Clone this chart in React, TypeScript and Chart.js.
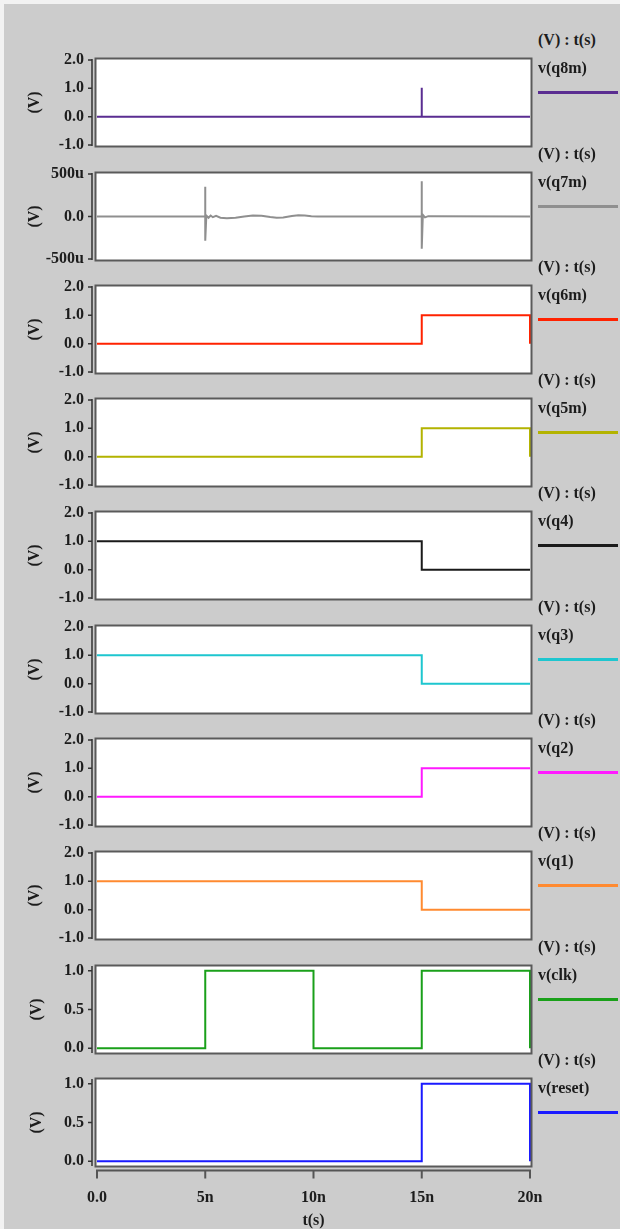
import React, { useEffect, useRef } from "react";
import { Chart, registerables } from "chart.js";

Chart.register(...registerables);

// ---------- data ----------
const timeTicks = [0, 5, 10, 15, 20]; // ns
const timeTickLabels = ["0.0", "5n", "10n", "15n", "20n"];

const stdTicks = [-1, 0, 1, 2];
const microTicks = [-500, 0, 500];
const unitTicks = [0, 0.5, 1];

const q8mTime = [0, 15, 15, 15, 20];
const q8mVolt = [0, 0, 1.02, 0, 0];

const q7mTime = [
  0, 5, 5, 5, 5.05, 5.15, 5.25, 5.35, 5.5, 5.7, 6.0, 6.4, 6.8, 7.2, 7.6, 8.0, 8.3, 8.6, 9.0,
  9.3, 9.6, 9.9, 10.2, 15, 15, 15, 15.05, 15.15, 15.3, 20,
];
const q7mMicroVolt = [
  0, 0, 350, -285, 10, -15, 12, -8, 8, -14, -20, -15, 0, 12, 10, -6, -16, -12, 6,
  16, 12, 4, 0, 0, 415, -380, 20, -10, 4, 0,
];

const q6mTime = [0, 15, 15, 20, 20];
const q6mVolt = [0, 0, 1, 1, 0];
const q5mTime = [0, 15, 15, 20, 20];
const q5mVolt = [0, 0, 1, 1, 0];
const q4Time = [0, 15, 15, 20];
const q4Volt = [1, 1, 0, 0];
const q3Time = [0, 15, 15, 20];
const q3Volt = [1, 1, 0, 0];
const q2Time = [0, 15, 15, 20];
const q2Volt = [0, 0, 1, 1];
const q1Time = [0, 15, 15, 20];
const q1Volt = [1, 1, 0, 0];
const clkTime = [0, 5, 5, 10, 10, 15, 15, 20, 20];
const clkVolt = [0, 0, 1, 1, 0, 0, 1, 1, 0];
const resetTime = [0, 15, 15, 20, 20];
const resetVolt = [0, 0, 1, 1, 0];

// ---------- layout / style ----------
const FONT_FAMILY = '"Liberation Serif", "Times New Roman", serif';
const TEXT_COLOR = "#1c1c1c";
const PLOT_LEFT = 97;
const PLOT_RIGHT = 530;
const PLOT_H = 85;
const PAD = 10;
const CANVAS_W = 560;
const PAGE_H = 1229;

const fmt1 = (v: number) => v.toFixed(1);
const fmtMicro = (v: number) => (v === 0 ? "0.0" : `${v}u`);

type PanelDef = {
  name: string;
  color: string;
  t: number[];
  v: number[];
  yMin: number;
  yMax: number;
  yTicks: number[];
  fmt: (v: number) => string;
  top: number;
  titlePad: number;
};

const panels: PanelDef[] = [
  { name: "v(q8m)", color: "#5a2d91", t: q8mTime, v: q8mVolt, yMin: -1, yMax: 2, yTicks: stdTicks, fmt: fmt1, top: 60, titlePad: 27 },
  { name: "v(q7m)", color: "#8f8f8f", t: q7mTime, v: q7mMicroVolt, yMin: -500, yMax: 500, yTicks: microTicks, fmt: fmtMicro, top: 174, titlePad: 27 },
  { name: "v(q6m)", color: "#ff2200", t: q6mTime, v: q6mVolt, yMin: -1, yMax: 2, yTicks: stdTicks, fmt: fmt1, top: 287, titlePad: 27 },
  { name: "v(q5m)", color: "#b3b300", t: q5mTime, v: q5mVolt, yMin: -1, yMax: 2, yTicks: stdTicks, fmt: fmt1, top: 400, titlePad: 27 },
  { name: "v(q4)", color: "#1a1a1a", t: q4Time, v: q4Volt, yMin: -1, yMax: 2, yTicks: stdTicks, fmt: fmt1, top: 513, titlePad: 27 },
  { name: "v(q3)", color: "#1ec6cf", t: q3Time, v: q3Volt, yMin: -1, yMax: 2, yTicks: stdTicks, fmt: fmt1, top: 627, titlePad: 27 },
  { name: "v(q2)", color: "#ff1aff", t: q2Time, v: q2Volt, yMin: -1, yMax: 2, yTicks: stdTicks, fmt: fmt1, top: 740, titlePad: 27 },
  { name: "v(q1)", color: "#ff8a30", t: q1Time, v: q1Volt, yMin: -1, yMax: 2, yTicks: stdTicks, fmt: fmt1, top: 853, titlePad: 27 },
  { name: "v(clk)", color: "#1aa01a", t: clkTime, v: clkVolt, yMin: -0.05, yMax: 1.05, yTicks: unitTicks, fmt: fmt1, top: 967, titlePad: 29 },
  { name: "v(reset)", color: "#1a1aff", t: resetTime, v: resetVolt, yMin: -0.05, yMax: 1.05, yTicks: unitTicks, fmt: fmt1, top: 1080, titlePad: 29 },
];

const framePlugin = {
  id: "spiceFrame",
  beforeDraw(chart: any) {
    const { ctx, chartArea: a } = chart;
    ctx.save();
    ctx.fillStyle = "#ffffff";
    ctx.fillRect(a.left - 1, a.top - 1, a.right - a.left + 2, a.bottom - a.top + 2);
    ctx.restore();
  },
  afterDraw(chart: any) {
    const { ctx, chartArea: a } = chart;
    ctx.save();
    ctx.strokeStyle = "#5a5a5a";
    ctx.lineWidth = 2;
    ctx.strokeRect(a.left - 1.5, a.top - 1.5, a.right - a.left + 3, a.bottom - a.top + 3);
    // y bracket axis
    const y = chart.scales.y;
    ctx.strokeStyle = "#333333";
    ctx.lineWidth = 1.5;
    const bx = a.left - 5;
    ctx.beginPath();
    ctx.moveTo(bx, a.top - 1);
    ctx.lineTo(bx, a.bottom + 1);
    for (const tk of y.ticks) {
      const py = y.getPixelForValue(tk.value);
      ctx.moveTo(bx, py);
      ctx.lineTo(bx - 4, py);
    }
    ctx.stroke();
    // x bracket axis
    const x = chart.scales.x;
    if (x.options.display) {
      const by = a.bottom + 5.5;
      ctx.strokeStyle = "#555555";
      ctx.lineWidth = 2;
      ctx.beginPath();
      ctx.moveTo(a.left - 1, by);
      ctx.lineTo(a.right + 1, by);
      for (const tk of x.ticks) {
        const px = x.getPixelForValue(tk.value);
        ctx.moveTo(px, by);
        ctx.lineTo(px, by + 8);
      }
      ctx.stroke();
    }
    ctx.restore();
  },
};

function SignalPanel({ p, last }: { p: PanelDef; last: boolean }) {
  const ref = useRef<HTMLCanvasElement | null>(null);
  const canvasTop = p.top - PAD;
  const canvasH = last ? PAGE_H - canvasTop : PLOT_H + 2 * PAD;

  useEffect(() => {
    if (!ref.current) return;
    const font = { family: FONT_FAMILY, size: 16, weight: "bold" as const };
    const chart = new Chart(ref.current, {
      type: "line",
      data: {
        datasets: [
          {
            data: p.t.map((x, i) => ({ x, y: p.v[i] })),
            borderColor: p.color,
            borderWidth: 2,
            pointRadius: 0,
            tension: 0,
            fill: false,
            clip: false as any,
          },
        ],
      },
      options: {
        animation: false,
        responsive: false,
        maintainAspectRatio: false,
        devicePixelRatio: 1,
        events: [],
        layout: {
          padding: { left: 0, right: CANVAS_W - PLOT_RIGHT, top: PAD, bottom: last ? 0 : PAD },
        },
        plugins: { legend: { display: false }, tooltip: { enabled: false } },
        scales: {
          x: {
            type: "linear",
            min: 0,
            max: 20,
            display: last,
            grid: { display: false, drawTicks: false },
            border: { display: false },
            afterBuildTicks: (s: any) => {
              s.ticks = timeTicks.map((value) => ({ value }));
            },
            afterFit: (s: any) => {
              if (last) {
                s.height = canvasH - PAD - PLOT_H;
              } else {
                s.height = 0;
              }
              s.paddingLeft = 0;
              s.paddingRight = 0;
            },
            ticks: {
              padding: 23,
              font,
              color: TEXT_COLOR,
              maxRotation: 0,
              autoSkip: false,
              callback: (v: any) => timeTickLabels[timeTicks.indexOf(Number(v))],
            },
            title: {
              display: true,
              text: "t(s)",
              color: TEXT_COLOR,
              font: { ...font, lineHeight: 1 },
              padding: { top: 0, bottom: 0 },
            },
          },
          y: {
            type: "linear",
            min: p.yMin,
            max: p.yMax,
            grid: { display: false, drawTicks: false },
            border: { display: false },
            afterBuildTicks: (s: any) => {
              s.ticks = p.yTicks.map((value) => ({ value }));
            },
            afterFit: (s: any) => {
              s.width = PLOT_LEFT;
              s.paddingTop = 0;
              s.paddingBottom = 0;
            },
            ticks: {
              padding: 13,
              font,
              color: TEXT_COLOR,
              autoSkip: false,
              callback: (v: any) => p.fmt(Number(v)),
            },
            title: {
              display: true,
              text: "(V)",
              color: TEXT_COLOR,
              font: { ...font, lineHeight: 1 },
              padding: { top: p.titlePad, bottom: 0 },
            },
          },
        },
      } as any,
      plugins: [framePlugin],
    });
    return () => chart.destroy();
  }, []);

  const textStyle: React.CSSProperties = {
    position: "absolute",
    left: 538,
    font: `bold 16px ${FONT_FAMILY}`,
    lineHeight: "20px",
    color: TEXT_COLOR,
    whiteSpace: "nowrap",
  };

  return (
    <>
      <canvas
        ref={ref}
        width={CANVAS_W}
        height={canvasH}
        style={{ position: "absolute", left: 0, top: canvasTop, width: CANVAS_W, height: canvasH }}
      />
      <div style={{ ...textStyle, top: p.top - 30 }}>(V) : t(s)</div>
      <div style={{ ...textStyle, top: p.top - 2 }}>{p.name}</div>
      <div
        style={{
          position: "absolute",
          left: 538,
          top: p.top + 31,
          width: 80,
          height: 3,
          background: p.color,
        }}
      />
    </>
  );
}

export default function App() {
  return (
    <div
      style={{
        position: "absolute",
        left: 0,
        top: 0,
        width: 620,
        height: PAGE_H,
        background: "#f2f2f2",
        overflow: "hidden",
      }}
    >
      <div
        style={{
          position: "absolute",
          left: 4,
          top: 4,
          width: 616,
          height: PAGE_H - 4,
          background: "#cccccc",
        }}
      />
      {panels.map((p, i) => (
        <SignalPanel key={p.name} p={p} last={i === panels.length - 1} />
      ))}
    </div>
  );
}
